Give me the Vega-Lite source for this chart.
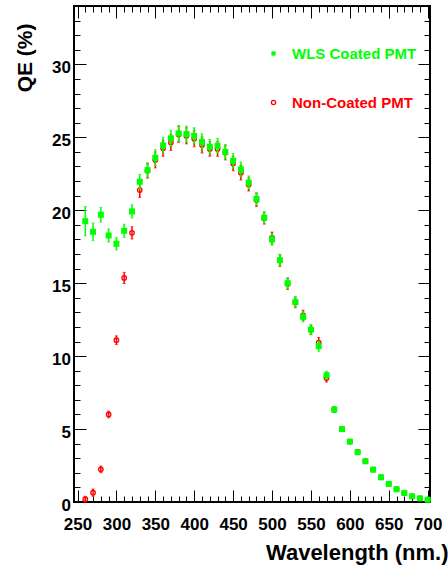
{
 "$schema": "https://vega.github.io/schema/vega-lite/v6.json",
 "width": 356, "height": 496,
 "autosize": {"type": "none"},
 "padding": {"left": 74, "top": 6, "right": 18, "bottom": 65},
 "background": "white",
 "config": {
  "view": {"stroke": "black", "strokeWidth": 2},
  "font": "Liberation Sans",
  "axis": {"grid": false, "domain": false, "labels": false, "title": null,
   "labelFont": "Liberation Sans", "labelFontWeight": "bold", "labelFontSize": 17, "labelColor": "black",
   "titleFont": "Liberation Sans", "titleFontWeight": "bold", "titleFontSize": 21, "titleColor": "black",
   "tickColor": "black", "tickWidth": 1}
 },
 "data": {"values": [
  {"wl":260,"qe":19.25,"err":1.0,"s":"WLS Coated PMT"},
  {"wl":270,"qe":18.52,"err":0.6,"s":"WLS Coated PMT"},
  {"wl":280,"qe":19.69,"err":0.5,"s":"WLS Coated PMT"},
  {"wl":290,"qe":18.27,"err":0.45,"s":"WLS Coated PMT"},
  {"wl":300,"qe":17.7,"err":0.42,"s":"WLS Coated PMT"},
  {"wl":310,"qe":18.59,"err":0.45,"s":"WLS Coated PMT"},
  {"wl":320,"qe":19.92,"err":0.45,"s":"WLS Coated PMT"},
  {"wl":330,"qe":21.95,"err":0.5,"s":"WLS Coated PMT"},
  {"wl":340,"qe":22.75,"err":0.5,"s":"WLS Coated PMT"},
  {"wl":350,"qe":23.6,"err":0.55,"s":"WLS Coated PMT"},
  {"wl":360,"qe":24.45,"err":0.55,"s":"WLS Coated PMT"},
  {"wl":370,"qe":24.93,"err":0.55,"s":"WLS Coated PMT"},
  {"wl":380,"qe":25.27,"err":0.55,"s":"WLS Coated PMT"},
  {"wl":390,"qe":25.22,"err":0.55,"s":"WLS Coated PMT"},
  {"wl":400,"qe":25.1,"err":0.55,"s":"WLS Coated PMT"},
  {"wl":410,"qe":24.69,"err":0.55,"s":"WLS Coated PMT"},
  {"wl":420,"qe":24.35,"err":0.5,"s":"WLS Coated PMT"},
  {"wl":430,"qe":24.42,"err":0.5,"s":"WLS Coated PMT"},
  {"wl":440,"qe":24.0,"err":0.5,"s":"WLS Coated PMT"},
  {"wl":450,"qe":23.39,"err":0.5,"s":"WLS Coated PMT"},
  {"wl":460,"qe":22.8,"err":0.5,"s":"WLS Coated PMT"},
  {"wl":470,"qe":21.9,"err":0.45,"s":"WLS Coated PMT"},
  {"wl":480,"qe":20.78,"err":0.45,"s":"WLS Coated PMT"},
  {"wl":490,"qe":19.5,"err":0.4,"s":"WLS Coated PMT"},
  {"wl":500,"qe":18.0,"err":0.4,"s":"WLS Coated PMT"},
  {"wl":510,"qe":16.58,"err":0.4,"s":"WLS Coated PMT"},
  {"wl":520,"qe":15.0,"err":0.38,"s":"WLS Coated PMT"},
  {"wl":530,"qe":13.72,"err":0.36,"s":"WLS Coated PMT"},
  {"wl":540,"qe":12.69,"err":0.35,"s":"WLS Coated PMT"},
  {"wl":550,"qe":11.82,"err":0.33,"s":"WLS Coated PMT"},
  {"wl":560,"qe":10.68,"err":0.35,"s":"WLS Coated PMT"},
  {"wl":570,"qe":8.69,"err":0.28,"s":"WLS Coated PMT"},
  {"wl":580,"qe":6.34,"err":0.2,"s":"WLS Coated PMT"},
  {"wl":590,"qe":5.0,"err":0.15,"s":"WLS Coated PMT"},
  {"wl":600,"qe":4.14,"err":0.12,"s":"WLS Coated PMT"},
  {"wl":610,"qe":3.41,"err":0.1,"s":"WLS Coated PMT"},
  {"wl":620,"qe":2.79,"err":0.08,"s":"WLS Coated PMT"},
  {"wl":630,"qe":2.22,"err":0.07,"s":"WLS Coated PMT"},
  {"wl":640,"qe":1.69,"err":0.05,"s":"WLS Coated PMT"},
  {"wl":650,"qe":1.24,"err":0.04,"s":"WLS Coated PMT"},
  {"wl":660,"qe":0.87,"err":0.03,"s":"WLS Coated PMT"},
  {"wl":670,"qe":0.62,"err":0.02,"s":"WLS Coated PMT"},
  {"wl":680,"qe":0.39,"err":0.02,"s":"WLS Coated PMT"},
  {"wl":690,"qe":0.25,"err":0.01,"s":"WLS Coated PMT"},
  {"wl":700,"qe":0.16,"err":0.01,"s":"WLS Coated PMT"},
  {"wl":260,"qe":0.19,"err":0.2,"s":"Non-Coated PMT"},
  {"wl":270,"qe":0.64,"err":0.25,"s":"Non-Coated PMT"},
  {"wl":280,"qe":2.24,"err":0.23,"s":"Non-Coated PMT"},
  {"wl":290,"qe":6.0,"err":0.23,"s":"Non-Coated PMT"},
  {"wl":300,"qe":11.09,"err":0.3,"s":"Non-Coated PMT"},
  {"wl":310,"qe":15.36,"err":0.38,"s":"Non-Coated PMT"},
  {"wl":320,"qe":18.45,"err":0.42,"s":"Non-Coated PMT"},
  {"wl":330,"qe":21.38,"err":0.5,"s":"Non-Coated PMT"},
  {"wl":340,"qe":22.7,"err":0.5,"s":"Non-Coated PMT"},
  {"wl":350,"qe":23.45,"err":0.55,"s":"Non-Coated PMT"},
  {"wl":360,"qe":24.25,"err":0.55,"s":"Non-Coated PMT"},
  {"wl":370,"qe":24.65,"err":0.55,"s":"Non-Coated PMT"},
  {"wl":380,"qe":25.2,"err":0.55,"s":"Non-Coated PMT"},
  {"wl":390,"qe":25.1,"err":0.55,"s":"Non-Coated PMT"},
  {"wl":400,"qe":24.9,"err":0.55,"s":"Non-Coated PMT"},
  {"wl":410,"qe":24.47,"err":0.55,"s":"Non-Coated PMT"},
  {"wl":420,"qe":24.2,"err":0.5,"s":"Non-Coated PMT"},
  {"wl":430,"qe":24.2,"err":0.5,"s":"Non-Coated PMT"},
  {"wl":440,"qe":23.95,"err":0.5,"s":"Non-Coated PMT"},
  {"wl":450,"qe":23.2,"err":0.5,"s":"Non-Coated PMT"},
  {"wl":460,"qe":22.57,"err":0.5,"s":"Non-Coated PMT"},
  {"wl":470,"qe":21.77,"err":0.45,"s":"Non-Coated PMT"},
  {"wl":480,"qe":20.7,"err":0.45,"s":"Non-Coated PMT"},
  {"wl":490,"qe":19.45,"err":0.4,"s":"Non-Coated PMT"},
  {"wl":500,"qe":18.1,"err":0.4,"s":"Non-Coated PMT"},
  {"wl":510,"qe":16.55,"err":0.4,"s":"Non-Coated PMT"},
  {"wl":520,"qe":14.95,"err":0.38,"s":"Non-Coated PMT"},
  {"wl":530,"qe":13.68,"err":0.36,"s":"Non-Coated PMT"},
  {"wl":540,"qe":12.8,"err":0.35,"s":"Non-Coated PMT"},
  {"wl":550,"qe":11.8,"err":0.33,"s":"Non-Coated PMT"},
  {"wl":560,"qe":10.93,"err":0.35,"s":"Non-Coated PMT"},
  {"wl":570,"qe":8.5,"err":0.28,"s":"Non-Coated PMT"},
  {"wl":580,"qe":6.34,"err":0.2,"s":"Non-Coated PMT"},
  {"wl":590,"qe":5.02,"err":0.15,"s":"Non-Coated PMT"},
  {"wl":600,"qe":4.14,"err":0.12,"s":"Non-Coated PMT"},
  {"wl":610,"qe":3.43,"err":0.1,"s":"Non-Coated PMT"},
  {"wl":620,"qe":2.8,"err":0.08,"s":"Non-Coated PMT"},
  {"wl":630,"qe":2.22,"err":0.07,"s":"Non-Coated PMT"},
  {"wl":640,"qe":1.7,"err":0.05,"s":"Non-Coated PMT"},
  {"wl":650,"qe":1.25,"err":0.04,"s":"Non-Coated PMT"},
  {"wl":660,"qe":0.88,"err":0.03,"s":"Non-Coated PMT"},
  {"wl":670,"qe":0.62,"err":0.02,"s":"Non-Coated PMT"},
  {"wl":680,"qe":0.39,"err":0.02,"s":"Non-Coated PMT"},
  {"wl":690,"qe":0.25,"err":0.01,"s":"Non-Coated PMT"},
  {"wl":700,"qe":0.16,"err":0.01,"s":"Non-Coated PMT"}
 ]},
 "layer": [
  {
   "transform": [{"filter": "datum.s === 'Non-Coated PMT'"}],
   "mark": {"type": "errorbar", "ticks": {"size": 3, "color": "#ff0000"}, "rule": {"color": "#ff0000", "strokeWidth": 1.5}},
   "encoding": {
    "x": {"field": "wl", "type": "quantitative", "scale": {"domain": [245.5, 703], "nice": false, "zero": false}, "axis": null},
    "y": {"field": "qe", "type": "quantitative", "scale": {"domain": [0, 34], "nice": false}, "axis": null},
    "yError": {"field": "err"}
   }
  },
  {
   "transform": [{"filter": "datum.s === 'Non-Coated PMT'"}],
   "mark": {"type": "point", "shape": "circle", "filled": false, "color": "#ff0000", "strokeWidth": 1.3, "size": 20, "opacity": 1},
   "encoding": {
    "x": {"field": "wl", "type": "quantitative", "scale": {"domain": [245.5, 703], "nice": false, "zero": false},
     "axis": {"orient": "bottom", "labels": true, "ticks": false, "values": [250,300,350,400,450,500,550,600,650,700],
      "labelPadding": 27, "labelBaseline": "alphabetic", "labelFlush": false, "labelOverlap": false,
      "title": "Wavelength (nm.)", "titleFontSize": 22, "titleX": 374, "titleY": 57, "titleAlign": "right", "titleBaseline": "alphabetic"}},
    "y": {"field": "qe", "type": "quantitative", "scale": {"domain": [0, 34], "nice": false},
     "axis": {"orient": "left", "labels": true, "ticks": false, "values": [0,5,10,15,20,25,30],
      "labelPadding": 3.5, "labelOffset": 3, "labelBaseline": "middle", "labelFlush": false, "labelOverlap": false,
      "title": "QE (%)", "titleX": -43, "titleY": 17, "titleAlign": "right", "titleAngle": 270, "titleBaseline": "alphabetic"}}
   }
  },
  {
   "transform": [{"filter": "datum.s === 'WLS Coated PMT'"}],
   "mark": {"type": "errorbar", "ticks": {"size": 3, "color": "#00ff00"}, "rule": {"color": "#00ff00", "strokeWidth": 1.5}},
   "encoding": {
    "x": {"field": "wl", "type": "quantitative", "scale": {"domain": [245.5, 703], "nice": false, "zero": false}, "axis": null},
    "y": {"field": "qe", "type": "quantitative", "scale": {"domain": [0, 34], "nice": false}, "axis": null},
    "yError": {"field": "err"}
   }
  },
  {
   "transform": [{"filter": "datum.s === 'WLS Coated PMT'"}],
   "mark": {"type": "point", "shape": "square", "filled": true, "size": 36, "opacity": 1},
   "encoding": {
    "x": {"field": "wl", "type": "quantitative", "scale": {"domain": [245.5, 703], "nice": false, "zero": false},
     "axis": {"orient": "bottom", "ticks": true, "tickSize": -12, "values": [250,300,350,400,450,500,550,600,650,700]}},
    "y": {"field": "qe", "type": "quantitative", "scale": {"domain": [0, 34], "nice": false},
     "axis": {"orient": "left", "ticks": true, "tickSize": -12, "values": [0,5,10,15,20,25,30]}},
    "fill": {"field": "s", "type": "nominal",
     "scale": {"domain": ["WLS Coated PMT", "Non-Coated PMT"], "range": ["#00ff00", "transparent"]},
     "legend": {"orient": "none", "legendX": 192, "legendY": 40, "title": null, "padding": 0, "offset": 0,
      "rowPadding": 33, "symbolSize": 18, "symbolStrokeWidth": 1.2, "labelFont": "Liberation Sans",
      "labelFontWeight": "bold", "labelFontSize": 15, "labelOffset": 11, "labelBaseline": "middle", "labelLimit": 300,
      "labelColor": {"expr": "datum.value === 'WLS Coated PMT' ? '#00ff00' : '#ff0000'"},
      "symbolType": {"expr": "datum.value === 'WLS Coated PMT' ? 'square' : 'circle'"},
      "symbolStrokeColor": {"expr": "datum.value === 'WLS Coated PMT' ? 'transparent' : '#ff0000'"}
     }}
   }
  },
  {
   "mark": {"type": "point", "opacity": 0},
   "encoding": {
    "x": {"field": "wl", "type": "quantitative", "scale": {"domain": [245.5, 703], "nice": false, "zero": false},
     "axis": {"orient": "bottom", "ticks": true, "tickSize": -6, "values": [250,260,270,280,290,300,310,320,330,340,350,360,370,380,390,400,410,420,430,440,450,460,470,480,490,500,510,520,530,540,550,560,570,580,590,600,610,620,630,640,650,660,670,680,690,700]}},
    "y": {"field": "qe", "type": "quantitative", "scale": {"domain": [0, 34], "nice": false},
     "axis": {"orient": "left", "ticks": true, "tickSize": -6, "values": [0,1,2,3,4,5,6,7,8,9,10,11,12,13,14,15,16,17,18,19,20,21,22,23,24,25,26,27,28,29,30,31,32,33,34]}}
   }
  },
  {
   "mark": {"type": "point", "opacity": 0},
   "encoding": {
    "x": {"field": "wl", "type": "quantitative", "scale": {"domain": [245.5, 703], "nice": false, "zero": false},
     "axis": {"orient": "top", "ticks": true, "tickSize": -12, "values": [250,300,350,400,450,500,550,600,650,700]}},
    "y": {"field": "qe", "type": "quantitative", "scale": {"domain": [0, 34], "nice": false},
     "axis": {"orient": "right", "ticks": true, "tickSize": -12, "values": [0,5,10,15,20,25,30]}}
   }
  },
  {
   "mark": {"type": "point", "opacity": 0},
   "encoding": {
    "x": {"field": "wl", "type": "quantitative", "scale": {"domain": [245.5, 703], "nice": false, "zero": false},
     "axis": {"orient": "top", "ticks": true, "tickSize": -6, "values": [250,260,270,280,290,300,310,320,330,340,350,360,370,380,390,400,410,420,430,440,450,460,470,480,490,500,510,520,530,540,550,560,570,580,590,600,610,620,630,640,650,660,670,680,690,700]}},
    "y": {"field": "qe", "type": "quantitative", "scale": {"domain": [0, 34], "nice": false},
     "axis": {"orient": "right", "ticks": true, "tickSize": -6, "values": [0,1,2,3,4,5,6,7,8,9,10,11,12,13,14,15,16,17,18,19,20,21,22,23,24,25,26,27,28,29,30,31,32,33,34]}}
   }
  }
 ],
 "resolve": {"axis": {"x": "independent", "y": "independent"}}
}
